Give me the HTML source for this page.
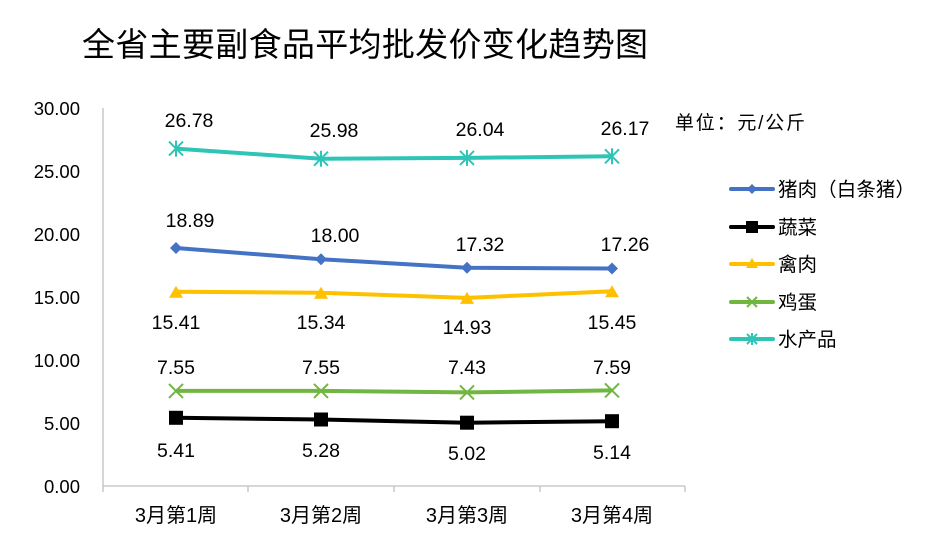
<!DOCTYPE html><html><head><meta charset="utf-8"><style>body{margin:0;background:#fff}svg{display:block}text{font-family:"Liberation Sans","Noto Sans CJK SC",sans-serif;fill:#000}</style></head><body>
<svg width="948" height="544" viewBox="0 0 948 544">
<text x="82" y="56" font-size="33" textLength="566" font-family="Noto Sans CJK SC,sans-serif">全省主要副食品平均批发价变化趋势图</text>
<g font-size="18.5" text-anchor="end">
<text x="80" y="115">30.00</text><text x="80" y="178">25.00</text><text x="80" y="241">20.00</text><text x="80" y="304">15.00</text><text x="80" y="367">10.00</text><text x="80" y="430">5.00</text><text x="80" y="493">0.00</text></g>
<g stroke="#bfbfbf" stroke-width="1.3"><line x1="103" y1="108" x2="103" y2="486"/><line x1="103" y1="486" x2="685" y2="486"/>
<line x1="103" y1="486" x2="103" y2="492"/><line x1="248" y1="486" x2="248" y2="492"/><line x1="394" y1="486" x2="394" y2="492"/><line x1="540" y1="486" x2="540" y2="492"/><line x1="685" y1="486" x2="685" y2="492"/></g>
<g font-size="20" text-anchor="middle"><text x="176" y="522">3月第1周</text><text x="321" y="522">3月第2周</text><text x="467" y="522">3月第3周</text><text x="612" y="522">3月第4周</text></g>
<text x="675" y="129" font-size="19" textLength="130">单位：元/公斤</text>
<g fill="none" stroke-width="4" stroke-linejoin="round">
<polyline stroke="#2ec4b6" points="176,148.6 321,158.7 467,157.9 612,156.3"/>
<polyline stroke="#4472c4" points="176,248 321,259.2 467,267.8 612,268.5"/>
<polyline stroke="#ffc000" points="176,291.8 321,292.7 467,297.9 612,291.3"/>
<polyline stroke="#70b640" points="176,390.9 321,390.9 467,392.4 612,390.4"/>
<polyline stroke="#000" points="176,417.8 321,419.5 467,422.7 612,421.2"/>
</g>
<g stroke="#2ec4b6" stroke-width="2">
<path d="M169,141.6l14,14M183,141.6l-14,14M176,140.6v16"/><path d="M314,151.7l14,14M328,151.7l-14,14M321,150.7v16"/><path d="M460,150.9l14,14M474,150.9l-14,14M467,149.9v16"/><path d="M605,149.3l14,14M619,149.3l-14,14M612,148.3v16"/></g>
<g fill="#4472c4"><path d="M176,242l6,6-6,6-6-6z"/><path d="M321,253.2l6,6-6,6-6-6z"/><path d="M467,261.8l6,6-6,6-6-6z"/><path d="M612,262.5l6,6-6,6-6-6z"/></g>
<g fill="#ffc000"><path d="M176,285.8l7,12h-14z"/><path d="M321,286.7l7,12h-14z"/><path d="M467,291.9l7,12h-14z"/><path d="M612,285.3l7,12h-14z"/></g>
<g stroke="#70b640" stroke-width="2"><path d="M169,383.9l14,14M183,383.9l-14,14"/><path d="M314,383.9l14,14M328,383.9l-14,14"/><path d="M460,385.4l14,14M474,385.4l-14,14"/><path d="M605,383.4l14,14M619,383.4l-14,14"/></g>
<g fill="#000"><rect x="169" y="410.8" width="14" height="14"/><rect x="314" y="412.5" width="14" height="14"/><rect x="460" y="415.7" width="14" height="14"/><rect x="605" y="414.2" width="14" height="14"/></g>
<g font-size="19.5" text-anchor="middle">
<text x="189" y="127">26.78</text><text x="334" y="137">25.98</text><text x="480" y="136">26.04</text><text x="625" y="135">26.17</text>
<text x="190" y="227">18.89</text><text x="335" y="242">18.00</text><text x="480" y="251">17.32</text><text x="625" y="251">17.26</text>
<text x="176" y="329">15.41</text><text x="321" y="329">15.34</text><text x="467" y="334">14.93</text><text x="612" y="329">15.45</text>
<text x="176" y="374">7.55</text><text x="321" y="374">7.55</text><text x="467" y="374">7.43</text><text x="612" y="374">7.59</text>
<text x="176" y="457">5.41</text><text x="321" y="457">5.28</text><text x="467" y="460">5.02</text><text x="612" y="459">5.14</text></g>
<g stroke-width="4" stroke-linecap="round">
<line x1="731" y1="189" x2="773" y2="189" stroke="#4472c4"/><line x1="731" y1="227" x2="773" y2="227" stroke="#000"/><line x1="731" y1="264" x2="773" y2="264" stroke="#ffc000"/><line x1="731" y1="302" x2="773" y2="302" stroke="#70b640"/><line x1="731" y1="339" x2="773" y2="339" stroke="#2ec4b6"/></g>
<path d="M752,184l5,5-5,5-5-5z" fill="#4472c4"/><rect x="746" y="221" width="12" height="12"/><path d="M752,258l6,10h-12z" fill="#ffc000"/>
<path d="M747,297l10,10M757,297l-10,10" stroke="#70b640" stroke-width="2"/><path d="M747,334l10,10M757,334l-10,10M752,333v12" stroke="#2ec4b6" stroke-width="2"/>
<g font-size="19.5"><text x="778" y="196" textLength="137">猪肉（白条猪）</text><text x="778" y="234">蔬菜</text><text x="778" y="271">禽肉</text><text x="778" y="309">鸡蛋</text><text x="778" y="346">水产品</text></g>
</svg></body></html>
